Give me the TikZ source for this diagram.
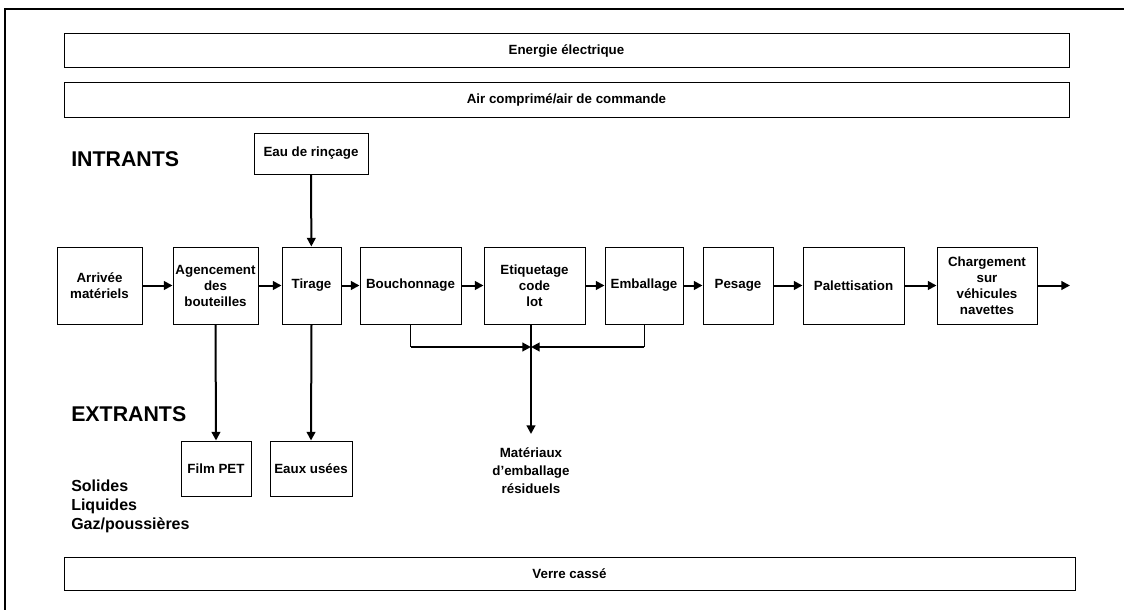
\documentclass[tikz,border=0pt]{standalone}
\usepackage{fontspec}
\setmainfont{Liberation Sans}
\usetikzlibrary{arrows.meta,positioning}

\tikzset{
  stage/.style={draw,line width=0.75pt,align=center,font=\fontsize{10}{12}\selectfont\bfseries,
    inner sep=1pt,minimum height=57.75pt},
  band/.style={draw,line width=0.75pt,font=\fontsize{10}{12}\selectfont\bfseries,
    minimum width=753.75pt,minimum height=25.5pt,inner sep=0pt},
  flow/.style={line width=1.5pt,-{Triangle[length=6.5pt,width=6.5pt]}},
  stub/.style={line width=0.75pt},
  heading/.style={anchor=west,font=\fontsize{16}{19}\selectfont\bfseries,inner sep=0pt}
}

\begin{document}
\begin{tikzpicture}[x=0.75pt,y=-0.75pt]
  \useasboundingbox (0,0) rectangle (1124,610);
  % frame
  \draw[line width=1.8pt] (5,620) -- (5,9) -- (1134,9);

  % utilities
  \node[band] (elec) at (566.5,51) {Energie électrique};
  \node[band] (air) at (566.5,100) {Air comprimé/air de commande};
  \node[band,minimum width=758.25pt,minimum height=24.75pt] (verre) at (569.5,574) {Verre cassé};

  \node[heading] (intr) at (71,159) {INTRANTS};
  \node[heading] (extr) at (71,414) {EXTRANTS};
  \node[anchor=west,align=left,inner sep=0pt,font=\fontsize{12}{14.25}\selectfont\bfseries] (kinds) at (71,506)
    {Solides\\Liquides\\Gaz/poussières};

  \node[stage,minimum width=85.5pt,minimum height=30.75pt] (rinc) at (311,153.5) {Eau de rinçage};

  % main line
  \node[stage,minimum width=63.75pt] (arriv) at (99.5,285.5) {Arrivée\\matériels};
  \node[stage,minimum width=63.75pt] (agenc) at (215.5,285.5) {Agencement\\des\\bouteilles};
  \node[stage,minimum width=44.25pt] (tirage) at (311.5,285.5) {Tirage};
  \node[stage,minimum width=75.75pt] (bouch) at (410.5,285.5) {Bouchonnage};
  \node[stage,minimum width=75.75pt] (etiq) at (534.5,285.5) {Etiquetage\\code\\lot};
  \node[stage,minimum width=58.5pt] (emball) at (644,285.5) {Emballage};
  \node[stage,minimum width=52.5pt] (pesage) at (738,285.5) {Pesage};
  \node[stage,minimum width=75.75pt] (palett) at (853.5,285.5) {Palettisation};
  \node[stage,minimum width=75pt] (charg) at (987,285.5) {Chargement\\sur\\véhicules\\navettes};
  \coordinate (out) at (1070,285.5);

  % outputs
  \node[stage,minimum width=52.5pt,minimum height=41.25pt] (film) at (216,468.5) {Film PET};
  \node[stage,minimum width=61.5pt,minimum height=41.25pt] (eaux) at (311,468.5) {Eaux usées};
  \node[align=center,inner sep=0pt,font=\fontsize{10}{13.5}\selectfont\bfseries] (mater) at (531,470.5)
    {Matériaux\\d'emballage\\résiduels};
  \coordinate (jn) at (531,347);
  \coordinate (mtop) at (531,434);

  \draw[flow] (arriv) -- (agenc);
  \draw[flow] (agenc) -- (tirage);
  \draw[flow] (tirage) -- (bouch);
  \draw[flow] (bouch) -- (etiq);
  \draw[flow] (etiq) -- (emball);
  \draw[flow] (emball) -- (pesage);
  \draw[flow] (pesage) -- (palett);
  \draw[flow] (palett) -- (charg);
  \draw[flow] (charg) -- (out);

  \draw[flow] (rinc) -- (tirage);
  \draw[flow] (agenc.south) -- (film.north);
  \draw[flow] (tirage.south) -- (eaux.north);

  \draw[stub] (bouch.south) -- (bouch.south |- jn);
  \draw[stub] (emball.south) -- (emball.south |- jn);
  \draw[flow] (bouch.south |- jn) -- (jn);
  \draw[flow] (emball.south |- jn) -- (jn);
  \draw[flow] (etiq.south -| jn) -- (mtop);
\end{tikzpicture}
\end{document}
